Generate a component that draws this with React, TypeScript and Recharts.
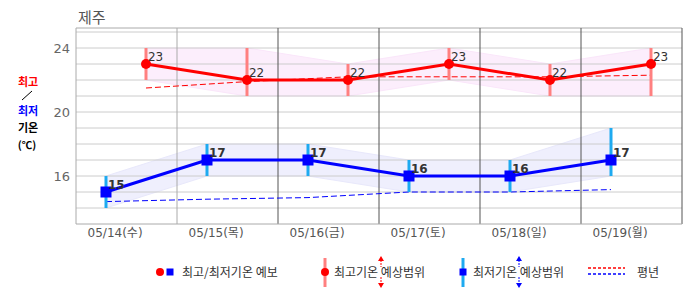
import {
  ComposedChart,
  Line,
  Area,
  XAxis,
  YAxis,
  ReferenceLine,
  ErrorBar,
  LabelList,
} from "recharts";

const dates = ["05/14(수)", "05/15(목)", "05/16(금)", "05/17(토)", "05/18(일)", "05/19(월)"];
const maxTemp = [23, 22, 22, 23, 22, 23];
const maxLow = [22, 21, 21, 22, 21, 21];
const maxHigh = [24, 24, 23, 24, 23, 24];
const minTemp = [15, 17, 17, 16, 16, 17];
const minLow = [14, 16, 16, 15, 15, 16];
const minHigh = [16, 18, 18, 17, 17, 19];
const maxNormal = [21.5, 21.9, 22.2, 22.2, 22.2, 22.3];
const minNormal = [14.4, 14.55, 14.65, 15.0, 15.0, 15.15];
const yTicks = [16, 20, 24];
const gridValues = [14, 15, 16, 17, 18, 19, 20, 21, 22, 23, 24, 25];

const rows = dates.map((d, i) => ({
  i,
  date: d,
  max: maxTemp[i],
  maxRange: [maxLow[i], maxHigh[i]],
  maxErr: [maxTemp[i] - maxLow[i], maxHigh[i] - maxTemp[i]],
  maxNormal: maxNormal[i],
  min: minTemp[i],
  minRange: [minLow[i], minHigh[i]],
  minErr: [minTemp[i] - minLow[i], minHigh[i] - minTemp[i]],
  minNormal: minNormal[i],
}));

const FONT = "'DejaVu Sans', 'Noto Sans CJK KR', sans-serif";
const KFONT = "'Noto Sans CJK KR', 'DejaVu Sans', sans-serif";

// blue series sits 30px into each day, red one 40px further right
const blueDomain = [-0.297, 5.703];
const redDomain = [-0.693, 5.307];
const dividers = [0.703, 1.703, 2.703, 3.703, 4.703];

const RedDot = (p: any) => (
  <circle key={`rd${p.index}`} cx={p.cx} cy={p.cy} r={5} fill="#ff0000" />
);
const BlueDot = (p: any) => (
  <rect key={`bd${p.index}`} x={p.cx - 5.5} y={p.cy - 5.5} width={11} height={11} fill="#0000ff" />
);
const RedLabel = (p: any) => (
  <text x={p.x + 2} y={p.y - 3} fontSize={12} fill="#333" fontFamily={FONT}>
    {p.value}
  </text>
);
const BlueLabel = (p: any) => (
  <text x={p.x + 2} y={p.y - 3} fontSize={12} fontWeight="bold" fill="#333" fontFamily={FONT}>
    {p.value}
  </text>
);

function Arrows({ x, color }: { x: number; color: string }) {
  return (
    <g>
      <line x1={x} y1={260} x2={x} y2={267} stroke={color} strokeWidth={1} strokeDasharray="2 1" />
      <polygon points={`${x - 3},${261} ${x + 3},${261} ${x},${256}`} fill={color} />
      <line x1={x} y1={277} x2={x} y2={284} stroke={color} strokeWidth={1} strokeDasharray="2 1" />
      <polygon points={`${x - 3},${283} ${x + 3},${283} ${x},${288}`} fill={color} />
    </g>
  );
}

function Overlay() {
  return (
    <svg
      width={686}
      height={295}
      style={{ position: "absolute", left: 0, top: 0, pointerEvents: "none" }}
    >
      <text x={78} y={23} fontSize={15} fill="#555" fontFamily={KFONT}>
        제주
      </text>
      <g fontFamily={KFONT} fontWeight="bold" fontSize={11} textAnchor="middle">
        <text x={28} y={86} fill="#ff0000">최고</text>
        <line x1={22} y1={100} x2={32} y2={91} stroke="#000" strokeWidth={1} />
        <text x={28} y={115} fill="#0000ff">최저</text>
        <text x={28} y={132} fill="#000">기온</text>
        <text x={27} y={148.5} fill="#000" fontSize={10.5}>(℃)</text>
      </g>
      <g fontFamily={KFONT} fontSize={12} fill="#333">
        <circle cx={160} cy={272} r={4} fill="#ff0000" />
        <rect x={166.5} y={268.5} width={7} height={7} fill="#0000ff" />
        <text x={182} y={277}>최고/최저기온 예보</text>

        <line x1={325} y1={258} x2={325} y2={287} stroke="#ff8080" strokeWidth={3} />
        <circle cx={325} cy={272} r={4} fill="#ff0000" />
        <text x={334} y={277}>최고기온 예상범위</text>
        <Arrows x={381} color="#ff0000" />

        <line x1={463} y1={258} x2={463} y2={287} stroke="#1eaaf0" strokeWidth={3} />
        <rect x={459.5} y={268.5} width={7} height={7} fill="#0000ff" />
        <text x={473} y={277}>최저기온 예상범위</text>
        <Arrows x={519} color="#0000ff" />

        <line x1={588} y1={268} x2={625} y2={268} stroke="#ff0000" strokeWidth={1.5} strokeDasharray="3 2" />
        <line x1={588} y1={274} x2={625} y2={274} stroke="#0000ff" strokeWidth={1.5} strokeDasharray="3 2" />
        <text x={637} y={277}>평년</text>
      </g>
    </svg>
  );
}

export default function App() {
  return (
    <div style={{ position: "absolute", left: 0, top: 0, width: 686, height: 295, background: "#fff" }}>
      <ComposedChart
        width={686}
        height={295}
        data={rows}
        margin={{ top: 28, right: 4, left: 30, bottom: 41 }}
      >
        <XAxis
          xAxisId="b"
          type="number"
          dataKey="i"
          domain={blueDomain}
          allowDataOverflow
          ticks={dates.map((_, i) => i + 0.09)}
          tickFormatter={(v: number) => dates[Math.round(v)]}
          axisLine={{ stroke: "#aaa" }}
          tickLine={false}
          tickSize={2}
          tickMargin={2}
          height={30}
          tick={{ fill: "#555", fontSize: 12, fontFamily: FONT }}
        />
        <XAxis xAxisId="r" type="number" dataKey="i" domain={redDomain} allowDataOverflow hide />
        <YAxis
          type="number"
          domain={[13, 25.25]}
          allowDataOverflow
          ticks={yTicks}
          width={46}
          axisLine={{ stroke: "#aaa" }}
          tickLine={false}
          tickSize={4}
          tickMargin={2}
          tick={{ fill: "#666", fontSize: 13, fontFamily: FONT }}
        />

        {gridValues.map((v) => (
          <ReferenceLine key={`h${v}`} xAxisId="b" y={v} stroke="#ccc" strokeWidth={1} />
        ))}
        <ReferenceLine xAxisId="b" y={25.25} stroke="#aaa" strokeWidth={1} />
        {dividers.map((v, k) => (
          <ReferenceLine key={`v${v}`} xAxisId="b" x={v} stroke={k === 0 ? "#aaa" : "#555"} strokeWidth={1} />
        ))}
        <ReferenceLine xAxisId="b" x={5.703} stroke="#555" strokeWidth={1} />

        <Area
          xAxisId="r"
          dataKey="maxRange"
          type="linear"
          fill="#fcedfc"
          fillOpacity={0.92}
          stroke="#fae6fa"
          strokeWidth={1}
          isAnimationActive={false}
        />
        <Area
          xAxisId="b"
          dataKey="minRange"
          type="linear"
          fill="#eeeefd"
          fillOpacity={0.92}
          stroke="#e8e8fb"
          strokeWidth={1}
          isAnimationActive={false}
        />

        <Line
          xAxisId="r"
          dataKey="maxNormal"
          type="linear"
          stroke="#ff0000"
          strokeWidth={1}
          strokeDasharray="6 3"
          dot={false}
          activeDot={false}
          isAnimationActive={false}
        />
        <Line
          xAxisId="b"
          dataKey="minNormal"
          type="linear"
          stroke="#0000ff"
          strokeWidth={1}
          strokeDasharray="6 3"
          dot={false}
          activeDot={false}
          isAnimationActive={false}
        />

        <Line
          xAxisId="r"
          dataKey="max"
          stroke="none"
          dot={false}
          activeDot={false}
          isAnimationActive={false}
        >
          <ErrorBar dataKey="maxErr" width={0} stroke="#ff8080" strokeWidth={3} direction="y" isAnimationActive={false} />
        </Line>
        <Line
          xAxisId="b"
          dataKey="min"
          stroke="none"
          dot={false}
          activeDot={false}
          isAnimationActive={false}
        >
          <ErrorBar dataKey="minErr" width={0} stroke="#1eaaf0" strokeWidth={3} direction="y" isAnimationActive={false} />
        </Line>

        <Line
          xAxisId="r"
          dataKey="max"
          type="linear"
          stroke="#ff0000"
          strokeWidth={3}
          dot={RedDot}
          activeDot={false}
          isAnimationActive={false}
        >
          <LabelList dataKey="max" content={RedLabel} />
        </Line>
        <Line
          xAxisId="b"
          dataKey="min"
          type="linear"
          stroke="#0000ff"
          strokeWidth={3}
          dot={BlueDot}
          activeDot={false}
          isAnimationActive={false}
        >
          <LabelList dataKey="min" content={BlueLabel} />
        </Line>
      </ComposedChart>
      <Overlay />
    </div>
  );
}
